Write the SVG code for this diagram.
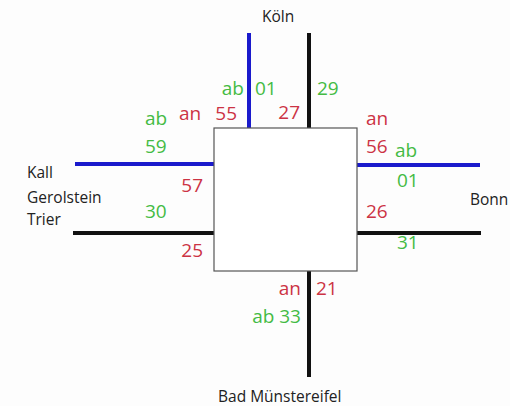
<svg xmlns="http://www.w3.org/2000/svg" width="510" height="406" viewBox="0 0 510 406">
<style>
.city{font-family:"Open Sans","DejaVu Sans",sans-serif;font-size:15.5px;fill:#222}
.t{font-family:"Open Sans","DejaVu Sans",sans-serif;font-size:19px}
.g{fill:#44bb44}
.r{fill:#cc3344}
.e{text-anchor:end}
.blue{stroke:#1a1acc;stroke-width:4;fill:none}
.black{stroke:#111;stroke-width:4;fill:none}
</style>
<rect width="510" height="406" fill="#fdfdfd"/>
<g id="connectors">
<line class="blue" x1="249" y1="33" x2="249" y2="128"/>
<line class="black" x1="309" y1="33" x2="309" y2="128"/>
<line class="blue" x1="75" y1="164" x2="214" y2="164"/>
<line class="black" x1="73" y1="233" x2="214" y2="233"/>
<line class="blue" x1="357" y1="165" x2="480" y2="165"/>
<line class="black" x1="357" y1="233" x2="481" y2="233"/>
<line class="black" x1="309" y1="271" x2="309" y2="377"/>
</g>
<g id="station">
<rect x="214" y="128" width="143" height="143" fill="#fff" stroke="#555" stroke-width="1.2"/>
</g>
<g id="koeln">
<text class="city" x="262" y="22">Köln</text>
</g>
<g id="west">
<text class="city" x="27" y="178">Kall</text>
<text class="city" x="27" y="203">Gerolstein</text>
<text class="city" x="27" y="225">Trier</text>
</g>
<g id="bonn">
<text class="city" x="470" y="205">Bonn</text>
</g>
<g id="muenstereifel">
<text class="city" x="218" y="402">Bad Münstereifel</text>
</g>
<g id="times">
<text class="t g e" x="244" y="95">ab</text>
<text class="t g" x="255" y="95">01</text>
<text class="t g" x="317" y="95">29</text>
<text class="t g" x="145" y="125">ab</text>
<text class="t r" x="179" y="120">an</text>
<text class="t r e" x="237" y="120">55</text>
<text class="t r e" x="300" y="119">27</text>
<text class="t g" x="145" y="153">59</text>
<text class="t r e" x="203" y="192">57</text>
<text class="t g" x="145" y="218">30</text>
<text class="t r e" x="203" y="257">25</text>
<text class="t r" x="366" y="125">an</text>
<text class="t r" x="366" y="153">56</text>
<text class="t g" x="395" y="157">ab</text>
<text class="t g" x="397" y="187">01</text>
<text class="t r" x="366" y="218">26</text>
<text class="t g" x="397" y="249">31</text>
<text class="t r e" x="301" y="295">an</text>
<text class="t r" x="316" y="295">21</text>
<text class="t g e" x="301" y="323">ab 33</text>
</g>
</svg>
